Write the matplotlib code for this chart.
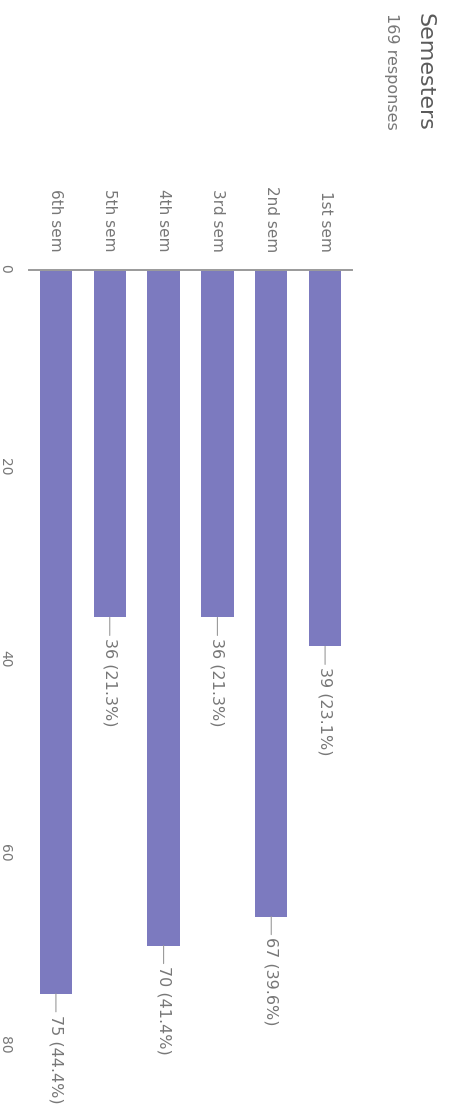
# Imports
import numpy as np
import matplotlib
matplotlib.use('Agg')
import matplotlib.pyplot as plt

# Data
categories = ['1st sem', '2nd sem', '3rd sem', '4th sem', '5th sem', '6th sem']
counts = [39, 67, 36, 70, 36, 75]
percents = ['23.1%', '39.6%', '21.3%', '41.4%', '21.3%', '44.4%']
tick_values = [0, 20, 40, 60, 80]
title = 'Semesters'
subtitle = '169 responses'

bar_color = '#7c7abf'
text_gray = '#777777'

plt.rcParams['font.family'] = ['DejaVu Sans']

fig = plt.figure(figsize=(4.49, 11.13), dpi=100)
fig.patch.set_facecolor('white')

# The chart is drawn turned on its side: bars hang down from the baseline
W, H = 449, 1113
ax = fig.add_axes([29 / W, 71 / H, 323 / W, 772 / H])

# 6th sem is on the left, 1st sem on the right
pos = np.arange(len(categories))[::-1]
ax.bar(pos, counts, width=0.6, color=bar_color, zorder=2)

ax.set_xlim(-0.5, len(categories) - 0.5)
ax.set_ylim(80, 0)

# baseline
ax.axhline(0, color='#9a9a9a', lw=1.4, clip_on=False, zorder=3)

for s in ax.spines.values():
    s.set_visible(False)
ax.set_xticks([])
ax.set_yticks(tick_values)
ax.set_yticklabels([str(t) for t in tick_values], rotation=-90,
                   color=text_gray, fontsize=10)
ax.tick_params(axis='y', length=0, pad=12)

# category labels above the baseline
for p, name in zip(pos, categories):
    ax.annotate(name, xy=(p, 0), xytext=(0, 13), textcoords='offset points',
                rotation=-90, ha='center', va='bottom',
                color=text_gray, fontsize=11)

# value labels with a short leader line
for p, c, pc in zip(pos, counts, percents):
    ax.annotate('%d (%s)' % (c, pc), xy=(p, c), xytext=(0, -15),
                textcoords='offset points', rotation=-90,
                ha='center', va='top', color=text_gray, fontsize=11.5,
                arrowprops=dict(arrowstyle='-', color='#9a9a9a', lw=0.8,
                                shrinkA=0, shrinkB=0))

# title and response count
fig.text(425 / W, 1 - 13 / H, title, rotation=-90, ha='center', va='top',
         color='#5a5a5a', fontsize=16)
fig.text(392 / W, 1 - 13 / H, subtitle, rotation=-90, ha='center', va='top',
         color=text_gray, fontsize=11.5)

fig.savefig('out.png', dpi=100, facecolor='white')
